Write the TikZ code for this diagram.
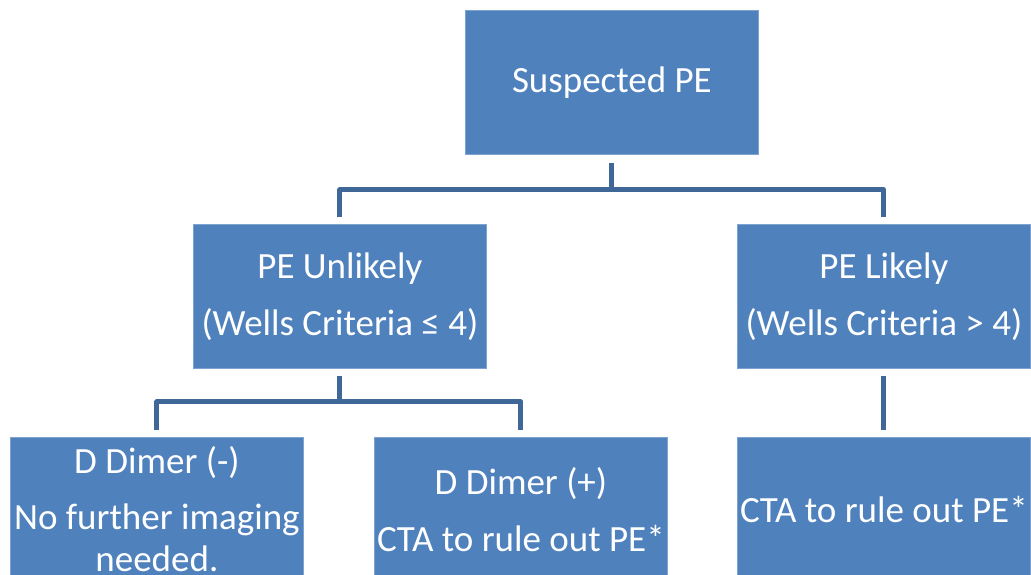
\documentclass[tikz,border=0pt]{standalone}
\usepackage{fontspec}
\setmainfont{Carlito}
\definecolor{boxblue}{HTML}{4F81BD}
\definecolor{boxedge}{HTML}{7FA3D0}
\definecolor{linkblue}{HTML}{3F6797}
\begin{document}
\begin{tikzpicture}[x=1pt,y=-1pt,
  box/.style={fill=boxblue, draw=boxedge, line width=0.8pt,
    minimum width=293pt, minimum height=144pt, inner sep=0pt,
    anchor=north west, text=white, align=center,
    font=\fontsize{37}{42}\selectfont},
  link/.style={draw=linkblue, line width=5pt, line join=round}]
\useasboundingbox (0,0) rectangle (1031,575);
\clip (0,0) rectangle (1031,575);
\node[box] (top) at (465,10) {Suspected PE};
\node[box] (unl) at (193,224) {PE Unlikely\\[15pt](Wells Criteria ≤ 4)};
\node[box] (lik) at (737,224) {PE Likely\\[15pt](Wells Criteria > 4)};
\node[box] (neg) at (10,437) {D Dimer (-)\\[14pt]No further imaging\\needed.};
\node[box] (pos) at (374,437) {D Dimer (+)\\[15pt]CTA to rule out PE*};
\node[box] (cta) at (737,437) {CTA to rule out PE*};
\path (top.south) ++(0,35) coordinate (f1);
\path (unl.south) ++(0,33) coordinate (f2);
\draw[link] ([yshift=-8pt]top.south) -- (f1);
\draw[link] ([yshift=7pt]unl.north) |- (f1) -| ([yshift=7pt]lik.north);
\draw[link] ([yshift=-7pt]unl.south) -- (f2);
\draw[link] ([yshift=7pt]neg.north) |- (f2) -| ([yshift=7pt]pos.north);
\draw[link] ([yshift=-7pt]lik.south) -- ([yshift=7pt]cta.north);
\end{tikzpicture}
\end{document}
